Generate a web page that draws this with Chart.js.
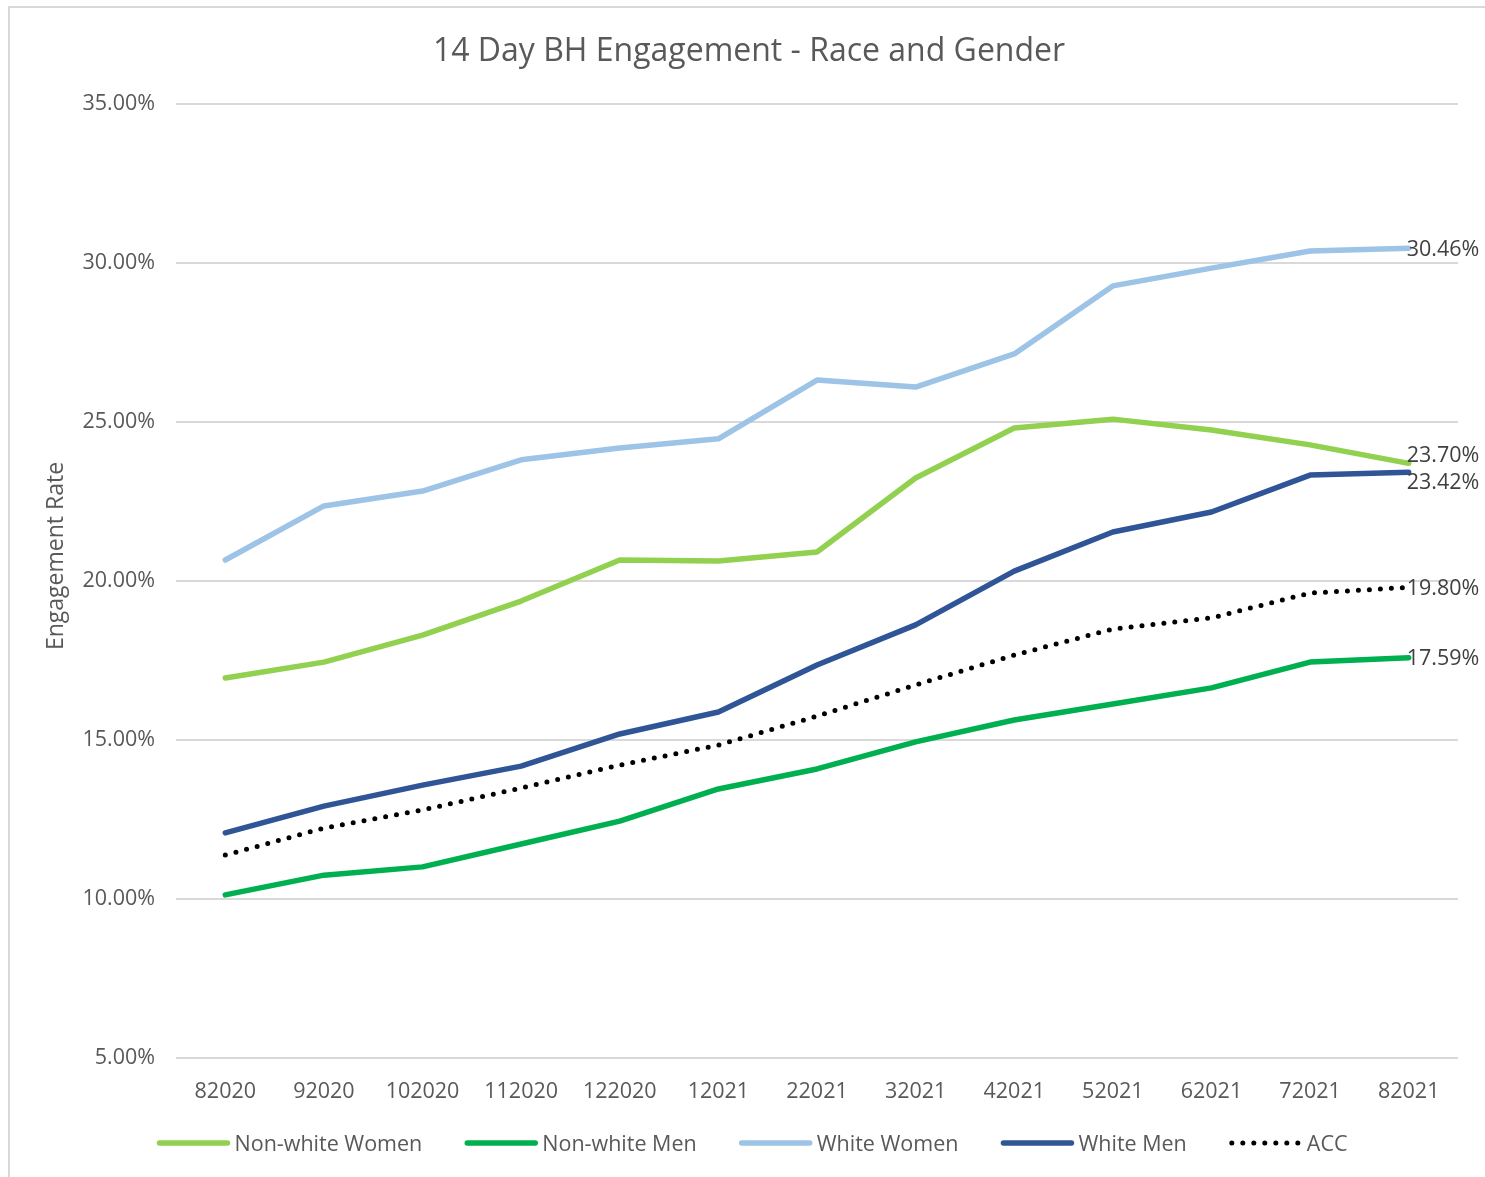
<!DOCTYPE html>
<html>
<head>
<meta charset="utf-8">
<title>14 Day BH Engagement - Race and Gender</title>
<script src="https://cdn.jsdelivr.net/npm/chart.js@4.4.0/dist/chart.umd.min.js"></script>
<style>
  html, body { margin: 0; padding: 0; background: #fff; }
  #wrap { width: 1485px; height: 1177px; }
</style>
</head>
<body>
<div id="wrap"><canvas id="chart" width="1485" height="1177"></canvas></div>
<script>
// data
const months = ['82020', '92020', '102020', '112020', '122020', '12021', '22021', '32021', '42021', '52021', '62021', '72021', '82021'];
const nonWhiteWomen = [16.95, 17.45, 18.30, 19.37, 20.66, 20.63, 20.91, 23.24, 24.81, 25.09, 24.75, 24.28, 23.70];
const nonWhiteMen   = [10.13, 10.75, 11.01, 11.73, 12.45, 13.46, 14.09, 14.94, 15.63, 16.13, 16.64, 17.45, 17.59];
const whiteWomen    = [20.66, 22.36, 22.83, 23.81, 24.18, 24.47, 26.32, 26.10, 27.14, 29.28, 29.84, 30.38, 30.46];
const whiteMen      = [12.08, 12.92, 13.58, 14.18, 15.19, 15.88, 17.36, 18.62, 20.31, 21.54, 22.17, 23.33, 23.42];
const acc           = [11.38, 12.23, 12.80, 13.49, 14.21, 14.84, 15.75, 16.73, 17.67, 18.49, 18.84, 19.62, 19.80];

const FONT = "'Open Sans', 'Noto Sans', sans-serif";
const TEXT = '#595959';
const SIZE = 21.5;

const line = (label, data, color, extra = {}) => Object.assign({
  label: label,
  data: data,
  borderColor: color,
  backgroundColor: color,
  borderWidth: 5.5,
  borderCapStyle: 'round',
  borderJoinStyle: 'round',
  pointRadius: 0,
  tension: 0,
  fill: false
}, extra);

// grey frame, title and y axis title
const frame = {
  id: 'frame',
  beforeDraw(chart) {
    const ctx = chart.ctx;
    ctx.save();
    ctx.fillStyle = '#fff';
    ctx.fillRect(0, 0, chart.width, chart.height);
    ctx.strokeStyle = '#d9d9d9';
    ctx.lineWidth = 2;
    ctx.strokeRect(9, 7, chart.width + 10, chart.height + 10);
    ctx.restore();
  },
  afterDraw(chart) {
    const ctx = chart.ctx;
    ctx.save();
    ctx.fillStyle = TEXT;
    ctx.textAlign = 'center';
    ctx.textBaseline = 'middle';
    ctx.font = '32px ' + FONT;
    ctx.fillText('14 Day BH Engagement - Race and Gender', 749, 52);
    ctx.translate(56, 556);
    ctx.rotate(-Math.PI / 2);
    ctx.font = '23px ' + FONT;
    ctx.fillText('Engagement Rate', 0, 0);
    ctx.restore();
  }
};

// value labels at the last point of every series, nudged apart when they touch
const endLabels = {
  id: 'endLabels',
  afterDatasetsDraw(chart) {
    const ctx = chart.ctx;
    const items = chart.data.datasets.map((ds, i) => {
      const pt = chart.getDatasetMeta(i).data[ds.data.length - 1];
      return { x: pt.x, y: pt.y, text: ds.data[ds.data.length - 1].toFixed(2) + '%' };
    }).sort((a, b) => a.y - b.y);
    const gap = 27;
    for (let k = 1; k < items.length; k++) {
      const a = items[k - 1], b = items[k];
      if (b.y - a.y < gap) {
        const mid = (a.y + b.y) / 2;
        a.y = mid - gap / 2;
        b.y = mid + gap / 2;
      }
    }
    ctx.save();
    ctx.font = SIZE + 'px ' + FONT;
    ctx.fillStyle = '#404040';
    ctx.textAlign = 'left';
    ctx.textBaseline = 'middle';
    items.forEach(it => ctx.fillText(it.text, it.x - 2, it.y + 1.5));
    ctx.restore();
  }
};

// bottom legend with line swatches
const lineLegend = {
  id: 'lineLegend',
  afterDraw(chart) {
    const ctx = chart.ctx;
    const sw = 74, gapTxt = 4, gapItem = 42, y = 1143;
    ctx.save();
    ctx.font = SIZE + 'px ' + FONT;
    const sets = chart.data.datasets;
    const widths = sets.map(ds => sw + gapTxt + ctx.measureText(ds.label).width);
    const total = widths.reduce((s, w) => s + w, 0) + gapItem * (sets.length - 1);
    let x = 752 - total / 2;
    sets.forEach((ds, i) => {
      ctx.beginPath();
      ctx.strokeStyle = ds.borderColor;
      ctx.lineWidth = ds.borderWidth;
      ctx.lineCap = 'round';
      ctx.setLineDash(ds.borderDash || []);
      ctx.moveTo(x + 3, y);
      ctx.lineTo(x + sw - 3, y);
      ctx.stroke();
      ctx.setLineDash([]);
      ctx.fillStyle = TEXT;
      ctx.textAlign = 'left';
      ctx.textBaseline = 'middle';
      ctx.fillText(ds.label, x + sw + gapTxt, y + 2);
      x += widths[i] + gapItem;
    });
    ctx.restore();
  }
};

new Chart(document.getElementById('chart'), {
  type: 'line',
  data: {
    labels: months,
    datasets: [
      line('Non-white Women', nonWhiteWomen, '#92d050'),
      line('Non-white Men', nonWhiteMen, '#00b050'),
      line('White Women', whiteWomen, '#9dc3e6'),
      line('White Men', whiteMen, '#2f5597'),
      line('ACC', acc, '#000000', { borderDash: [0, 11], borderWidth: 5 })
    ]
  },
  plugins: [frame, endLabels, lineLegend],
  options: {
    responsive: false,
    animation: false,
    layout: { padding: { left: 8, right: 27, top: 104, bottom: 59 } },
    plugins: {
      legend: { display: false },
      title: { display: false },
      tooltip: { enabled: false }
    },
    scales: {
      x: {
        offset: true,
        grid: { display: false },
        border: { display: false },
        ticks: { color: TEXT, font: { family: FONT, size: SIZE }, padding: 13, maxRotation: 0, autoSkip: false },
        afterFit(scale) { scale.height = 60; }
      },
      y: {
        min: 5,
        max: 35,
        grid: { color: '#d9d9d9', lineWidth: 2, drawTicks: false },
        border: { display: false },
        ticks: {
          stepSize: 5,
          color: TEXT,
          padding: 21,
          font: { family: FONT, size: SIZE },
          callback: v => v.toFixed(2) + '%'
        },
        afterFit(scale) { scale.width = 168; }
      }
    }
  }
});
</script>
</body>
</html>
